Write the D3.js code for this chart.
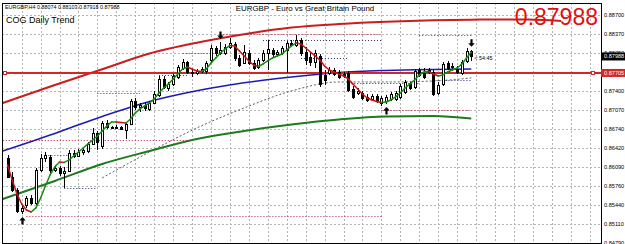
<!DOCTYPE html>
<html>
<head>
<meta charset="utf-8">
<script src="https://cdn.jsdelivr.net/npm/d3@7/dist/d3.min.js"></script>
<style>
body { margin: 0; background: #fff; }
text { font-family: "Liberation Sans", Arial, sans-serif; }
</style>
</head>
<body>
<script>
var width = 625, height = 244;

// EURGBP H4 candles
var opens  = [0.86245,0.85919,0.85696,0.85335,0.85438,0.85558,0.85472,0.86039,0.86245,0.86262,
              0.86039,0.86074,0.85988,0.86022,0.86331,0.86280,0.86348,0.86365,0.86486,0.86674,
              0.86451,0.86846,0.86777,0.86760,0.86777,0.86726,0.86829,0.87224,0.87121,0.87155,
              0.87087,0.87190,0.87327,0.87602,0.87447,0.87516,0.87636,0.87790,0.87893,0.87722,
              0.87705,0.87739,0.87739,0.87928,0.88134,0.88048,0.88048,0.88151,0.88202,0.87962,
              0.87876,0.88048,0.87876,0.87808,0.87928,0.88048,0.88100,0.88031,0.88048,0.88100,
              0.88220,0.88185,0.88271,0.88065,0.87979,0.87893,0.87997,0.87670,0.87705,0.87756,
              0.87722,0.87687,0.87705,0.87430,0.87361,0.87361,0.87293,0.87258,0.87310,0.87190,
              0.87224,0.87258,0.87258,0.87293,0.87378,0.87516,0.87464,0.87756,0.87705,0.87722,
              0.87722,0.87361,0.87516,0.87876,0.87808,0.87773,0.87705,0.87911,0.88074];
var highs  = [0.86297,0.86005,0.85730,0.85438,0.85593,0.85610,0.86074,0.86314,0.86348,0.86297,
              0.86125,0.86108,0.86091,0.86383,0.86383,0.86400,0.86434,0.86520,0.86760,0.86709,
              0.86880,0.86898,0.86795,0.86812,0.86795,0.86863,0.87258,0.87275,0.87190,0.87207,
              0.87224,0.87396,0.87653,0.87653,0.87550,0.87687,0.87842,0.87945,0.87911,0.87756,
              0.87773,0.87808,0.87911,0.88185,0.88168,0.88237,0.88202,0.88306,0.88237,0.88014,
              0.88185,0.88100,0.87928,0.87962,0.88100,0.88271,0.88134,0.88100,0.88168,0.88254,
              0.88271,0.88357,0.88306,0.88151,0.88065,0.88100,0.88031,0.87756,0.87808,0.87790,
              0.87756,0.87722,0.87739,0.87481,0.87447,0.87396,0.87344,0.87344,0.87344,0.87310,
              0.87327,0.87378,0.87396,0.87516,0.87584,0.87550,0.87773,0.87790,0.87790,0.87790,
              0.87756,0.87550,0.87893,0.87911,0.87876,0.87825,0.87928,0.88134,0.88103];
var lows   = [0.85902,0.85661,0.85301,0.85284,0.85387,0.85438,0.85438,0.86005,0.86177,0.85988,
              0.86005,0.85936,0.85730,0.86005,0.86245,0.86262,0.86297,0.86331,0.86468,0.86383,
              0.86400,0.86743,0.86743,0.86743,0.86726,0.86571,0.86812,0.87069,0.87035,0.87052,
              0.87052,0.87172,0.87293,0.87430,0.87396,0.87481,0.87602,0.87756,0.87687,0.87636,
              0.87670,0.87705,0.87687,0.87893,0.87997,0.88014,0.88014,0.88117,0.87911,0.87808,
              0.87859,0.87842,0.87756,0.87773,0.87893,0.87756,0.87979,0.87997,0.88014,0.87705,
              0.88151,0.88151,0.87997,0.87842,0.87825,0.87790,0.87464,0.87499,0.87670,0.87653,
              0.87602,0.87619,0.87378,0.87258,0.87327,0.87241,0.87207,0.87224,0.87190,0.87138,
              0.87172,0.87224,0.87224,0.87258,0.87344,0.87413,0.87430,0.87636,0.87602,0.87687,
              0.87310,0.87327,0.87481,0.87756,0.87739,0.87687,0.87670,0.87876,0.87918];
var closes = [0.85919,0.85696,0.85335,0.85387,0.85558,0.85472,0.86039,0.86245,0.86297,0.86039,
              0.86074,0.85988,0.86022,0.86331,0.86280,0.86348,0.86383,0.86486,0.86674,0.86520,
              0.86846,0.86777,0.86760,0.86777,0.86743,0.86829,0.87224,0.87121,0.87155,0.87104,
              0.87190,0.87344,0.87602,0.87464,0.87516,0.87653,0.87808,0.87893,0.87722,0.87705,
              0.87739,0.87773,0.87876,0.88134,0.88048,0.88100,0.88151,0.88220,0.87962,0.87842,
              0.88065,0.87876,0.87790,0.87928,0.88048,0.88117,0.88031,0.88065,0.88134,0.88220,
              0.88185,0.88271,0.88048,0.87928,0.87893,0.88048,0.87516,0.87584,0.87756,0.87687,
              0.87636,0.87653,0.87413,0.87293,0.87396,0.87275,0.87241,0.87310,0.87224,0.87275,
              0.87293,0.87344,0.87361,0.87481,0.87550,0.87447,0.87739,0.87670,0.87636,0.87756,
              0.87344,0.87499,0.87859,0.87790,0.87825,0.87722,0.87893,0.88082,0.87988];

// smoothed trend line through the candles (one value per bar)
var trend = [0.86125,0.85867,0.85627,0.85455,0.85352,0.85318,0.85387,0.85558,0.85764,0.85953,
             0.86091,0.86177,0.86168,0.86211,0.86280,0.86348,0.86417,0.86486,0.86554,0.86623,
             0.86709,0.86795,0.86863,0.86863,0.86855,0.86846,0.86915,0.87018,0.87087,0.87138,
             0.87190,0.87258,0.87361,0.87447,0.87516,0.87602,0.87687,0.87773,0.87808,0.87773,
             0.87739,0.87730,0.87773,0.87876,0.87962,0.88048,0.88117,0.88177,0.88168,0.88082,
             0.87997,0.87911,0.87842,0.87816,0.87859,0.87911,0.87962,0.87997,0.88031,0.88100,
             0.88168,0.88220,0.88202,0.88134,0.88065,0.87997,0.87928,0.87825,0.87756,0.87722,
             0.87687,0.87653,0.87602,0.87516,0.87430,0.87344,0.87275,0.87241,0.87215,0.87198,
             0.87207,0.87241,0.87293,0.87361,0.87447,0.87516,0.87584,0.87670,0.87722,0.87730,
             0.87687,0.87653,0.87670,0.87722,0.87756,0.87790,0.87859,0.87962,0.88065];

// COG channel curves, sampled at bar positions
var bandBars   = [-1, 10, 20, 30, 40, 50, 60, 70, 80, 90, 98];
var upperBand  = [0.87190,0.87499,0.87768,0.88039,0.88225,0.88371,0.88484,0.88544,0.88584,0.88609,0.88620];
var upperTail  = [[98,0.88620],[104,0.88623],[110,0.88623],[117,0.88597]];
var middleBand = [0.86365,0.86666,0.86958,0.87215,0.87399,0.87536,0.87636,0.87713,0.87748,0.87765,0.87773];
var lowerBand  = [0.85541,0.85850,0.86142,0.86365,0.86572,0.86709,0.86820,0.86906,0.86958,0.86966,0.86923];
var innerBars  = [20, 30, 40, 50, 60, 70, 80, 90, 98];
var innerBand  = [0.85902,0.86348,0.86760,0.87104,0.87396,0.87550,0.87550,0.87567,0.87619];

// dotted level lines: price, first bar, last bar
var redLevels  = [[0.86554,-1,39],[0.85250,4,79],[0.88374,45,79],[0.88357,87,98],[0.87069,79,98]];
var darkLevels = [[0.85730,12,19],[0.86297,8,13],[0.87361,19,28],[0.87670,32,38],[0.88048,37,44],
                  [0.88271,54,79],[0.87962,62,72],[0.87533,72,87],[0.87584,90,98]];

var arrowBars = [3, 45, 80, 98];
var arrowDirs = ["up", "down", "up", "down"];

var tickLabels = ["0.88700","0.88370","0.88050","0.87720","0.87400","0.87070","0.86740",
                  "0.86420","0.86090","0.85760","0.85440","0.85110","0.84790"];
var lastPrice = 0.87988, linePrice = 0.87705;
var headerText = "EURGBP,H4  0.88074 0.88103 0.87918 0.87988";

var svg = d3.select("body").append("svg")
    .attr("width", width).attr("height", height)
    .style("display", "block")
    .style("background", "#fff");

var pLeft = 2, pRight = 601, pTop = 3, pBottom = 243;
var x = d3.scaleLinear().domain([0, 98]).range([7.5, 471.3]);
var y = d3.scaleLinear().domain([0.84790, 0.88700]).range([242.7, 15]);
var px = function(v){ return Math.round(v) + 0.5; };

svg.append("clipPath").attr("id", "clip").append("rect")
    .attr("x", pLeft).attr("y", pTop).attr("width", pRight - pLeft).attr("height", pBottom - pTop);
var g = svg.append("g").attr("clip-path", "url(#clip)");

// grid
var gridBars = d3.range(3, 130, 4).filter(function(b){ return x(b) < pRight; });
g.selectAll(".vg").data(gridBars).enter().append("line")
    .attr("x1", function(d){ return px(x(d)); })
    .attr("x2", function(d){ return px(x(d)); })
    .attr("y1", pTop).attr("y2", pBottom)
    .attr("stroke", "#b4b4b4").attr("stroke-dasharray", "2,2");
g.selectAll(".hg").data(tickLabels).enter().append("line")
    .attr("x1", pLeft).attr("x2", pRight)
    .attr("y1", function(d){ return px(y(+d)); })
    .attr("y2", function(d){ return px(y(+d)); })
    .attr("stroke", "#b4b4b4").attr("stroke-dasharray", "2,2");

// channel curves
var bandLine = d3.line().x(function(d){ return x(d[0]); }).y(function(d){ return y(d[1]); })
    .curve(d3.curveMonotoneX);
function pairs(bars, vals){ return bars.map(function(b, i){ return [b, vals[i]]; }); }

g.append("path").attr("d", bandLine(pairs(innerBars, innerBand)))
    .attr("fill", "none").attr("stroke", "#333").attr("stroke-width", 0.8).attr("stroke-dasharray", "2,2");
g.append("path").attr("d", bandLine(pairs(bandBars, lowerBand)))
    .attr("fill", "none").attr("stroke", "#1e7a1e").attr("stroke-width", 2);
g.append("path").attr("d", bandLine(pairs(bandBars, middleBand)))
    .attr("fill", "none").attr("stroke", "#1c1cb4").attr("stroke-width", 1.6);
g.append("path").attr("d", bandLine(pairs(bandBars, upperBand).concat(upperTail.slice(1))))
    .attr("fill", "none").attr("stroke", "#c81e1e").attr("stroke-width", 2);

// dotted levels
g.selectAll(".rl").data(redLevels).enter().append("line")
    .attr("x1", function(d){ return x(d[1]); }).attr("x2", function(d){ return x(d[2]); })
    .attr("y1", function(d){ return px(y(d[0])); }).attr("y2", function(d){ return px(y(d[0])); })
    .attr("stroke", "#b0203c").attr("stroke-width", 1).attr("stroke-dasharray", "1,2");
g.selectAll(".dl").data(darkLevels).enter().append("line")
    .attr("x1", function(d){ return x(d[1]); }).attr("x2", function(d){ return x(d[2]); })
    .attr("y1", function(d){ return px(y(d[0])); }).attr("y2", function(d){ return px(y(d[0])); })
    .attr("stroke", "#303070").attr("stroke-width", 1).attr("stroke-dasharray", "1,2");

// horizontal price line
g.append("line").attr("x1", pLeft).attr("x2", pRight)
    .attr("y1", Math.round(y(linePrice))).attr("y2", Math.round(y(linePrice)))
    .attr("stroke", "#d02828").attr("stroke-width", 2);

// candles
var bars = d3.range(opens.length);
var cg = g.append("g");
cg.selectAll(".wick").data(bars).enter().append("line")
    .attr("x1", function(i){ return px(x(i)); })
    .attr("x2", function(i){ return px(x(i)); })
    .attr("y1", function(i){ return Math.round(y(highs[i])); })
    .attr("y2", function(i){ return Math.round(y(lows[i])); })
    .attr("stroke", "#000");
cg.selectAll(".body").data(bars).enter().append("rect")
    .attr("x", function(i){ return Math.round(x(i)) - 0.5; })
    .attr("width", 2)
    .attr("y", function(i){ return px(y(Math.max(opens[i], closes[i]))); })
    .attr("height", function(i){ return Math.max(1, Math.round(Math.abs(y(opens[i]) - y(closes[i])))); })
    .attr("fill", function(i){ return closes[i] >= opens[i] ? "#fff" : "#000"; })
    .attr("stroke", "#000").attr("stroke-width", 1);

// trend line, green while rising, red while falling
var seg = d3.line().x(function(d){ return x(d[0]); }).y(function(d){ return y(d[1]); });
g.selectAll(".tr").data(bars.slice(1)).enter().append("path")
    .attr("d", function(i){ return seg([[i - 1, trend[i - 1]], [i, trend[i]]]); })
    .attr("fill", "none").attr("stroke-width", 1.5).attr("stroke-linecap", "round")
    .attr("stroke", function(i){ return trend[i] >= trend[i - 1] ? "#138a13" : "#c81414"; });

// arrows
var downArrow = "M0,0 L-3.2,-3.5 L-1.1,-3.5 L-1.1,-7.5 L1.1,-7.5 L1.1,-3.5 L3.2,-3.5 Z";
var upArrow = "M0,0 L-3.2,3.5 L-1.1,3.5 L-1.1,7.5 L1.1,7.5 L1.1,3.5 L3.2,3.5 Z";
g.selectAll(".arrow").data(arrowBars).enter().append("path")
    .attr("d", function(b, k){ return arrowDirs[k] === "up" ? upArrow : downArrow; })
    .attr("transform", function(b, k){
        var py = arrowDirs[k] === "up" ? y(lows[b]) + 3 : y(highs[b]) - 3;
        return "translate(" + (Math.round(x(b)) + 0.5) + "," + py + ")";
    })
    .attr("fill", "#000");

// handles on the price line
g.selectAll(".handle").data([pLeft + 1, pRight - 10]).enter().append("rect")
    .attr("x", function(d){ return d + 0.5; }).attr("y", Math.round(y(linePrice)) - 1.5)
    .attr("width", 3).attr("height", 3).attr("fill", "#fff").attr("stroke", "#d02828").attr("stroke-width", 1);

// frame
svg.append("rect").attr("x", pLeft + 0.5).attr("y", pTop + 0.5)
    .attr("width", pRight - pLeft).attr("height", pBottom - pTop)
    .attr("fill", "none").attr("stroke", "#000");

// price axis (labels under the two price boxes are hidden, as in MT4)
var shownLabels = tickLabels.filter(function(d){
    return Math.abs(y(+d) - y(linePrice)) > 3 && Math.abs(y(+d) - y(lastPrice)) > 3;
});
svg.selectAll(".tick").data(shownLabels).enter().append("text")
    .attr("x", 604).attr("y", function(d){ return y(+d) + 2; })
    .attr("font-size", 5.6).attr("fill", "#000").text(function(d){ return d; });
svg.append("rect").attr("x", pRight).attr("y", y(linePrice) - 4).attr("width", width - pRight).attr("height", 8)
    .attr("fill", "#d02828");
svg.append("text").attr("x", 604).attr("y", y(linePrice) + 2).attr("font-size", 5.6)
    .attr("fill", "#fff").text(d3.format(".5f")(linePrice));
svg.append("rect").attr("x", pRight).attr("y", y(lastPrice) - 4).attr("width", width - pRight).attr("height", 8)
    .attr("fill", "#000");
svg.append("text").attr("x", 604).attr("y", y(lastPrice) + 2).attr("font-size", 5.6)
    .attr("fill", "#fff").text(d3.format(".5f")(lastPrice));

// texts
svg.append("text").attr("x", 5).attr("y", 9).attr("font-size", 5.4).attr("fill", "#000").text(headerText);
svg.append("text").attr("x", 6).attr("y", 23).attr("font-size", 9).attr("fill", "#000").text("COG Daily Trend");
svg.append("text").attr("x", 305).attr("y", 11).attr("font-size", 7.9).attr("text-anchor", "middle")
    .attr("fill", "#000").text("EURGBP - Euro vs Great Britain Pound");
svg.append("text").attr("x", 598).attr("y", 25).attr("font-size", 23).attr("text-anchor", "end")
    .attr("fill", "#e01010").text(d3.format(".5f")(lastPrice));
svg.append("text").attr("x", x(98) + 3).attr("y", y(lastPrice) + 4).attr("font-size", 5.4)
    .attr("fill", "#000").text("< 54:45");
</script>
</body>
</html>
